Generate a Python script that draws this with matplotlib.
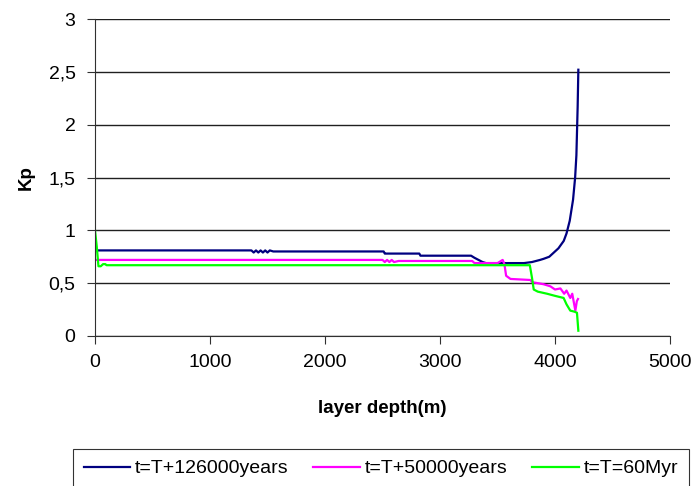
import matplotlib.pyplot as plt
from matplotlib.ticker import FuncFormatter

# series
depth_126k = [0, 20, 1360, 1380, 1400, 1420, 1440, 1460, 1480, 1500, 1520, 1550,
              2510, 2520, 2530, 2820, 2830, 3270, 3300, 3370, 3400, 3730, 3800,
              3870, 3900, 3950, 3990, 4030, 4076, 4100, 4128, 4157, 4175, 4186,
              4197, 4203]
kp_126k = [0.81, 0.81, 0.81, 0.79, 0.81, 0.79, 0.81, 0.79, 0.81, 0.79, 0.81, 0.80,
           0.80, 0.78, 0.78, 0.78, 0.76, 0.76, 0.74, 0.70, 0.69, 0.69, 0.70,
           0.72, 0.73, 0.75, 0.79, 0.83, 0.90, 0.97, 1.09, 1.29, 1.50, 1.71,
           2.17, 2.52]

depth_50k = [0, 2500, 2520, 2540, 2560, 2580, 2600, 2640, 3280, 3300, 3500, 3530,
             3545, 3560, 3575, 3613, 3787, 3800, 3850, 3900, 3931, 3960, 4000,
             4047, 4080, 4100, 4133, 4150, 4177, 4190, 4200]
kp_50k = [0.72, 0.72, 0.70, 0.72, 0.70, 0.72, 0.70, 0.71, 0.71, 0.69, 0.69, 0.71,
          0.72, 0.68, 0.57, 0.54, 0.53, 0.51, 0.50, 0.49, 0.48, 0.47, 0.44,
          0.45, 0.40, 0.43, 0.36, 0.40, 0.24, 0.33, 0.35]

depth_60m = [0, 15, 30, 50, 70, 90, 100, 3781, 3800, 3815, 3850, 3931, 4000,
             4075, 4100, 4133, 4170, 4191, 4203]
kp_60m = [1.0, 0.85, 0.66, 0.66, 0.68, 0.68, 0.67, 0.67, 0.55, 0.44, 0.42, 0.40,
          0.38, 0.36, 0.30, 0.24, 0.23, 0.22, 0.05]

labels = ['t=T+126000years', 't=T+50000years', 't=T=60Myr']
colors = ['#000080', '#FF00FF', '#00FF00']

plt.rcParams['font.family'] = ['Liberation Sans', 'DejaVu Sans']

fig = plt.figure(figsize=(6.96, 4.86), dpi=100)
ax = fig.add_axes([95/696, 1-336/486, (670-95)/696, (336-19)/486])

ax.plot(depth_126k, kp_126k, color=colors[0], lw=1.6, label=labels[0])
ax.plot(depth_50k, kp_50k, color=colors[1], lw=1.6, label=labels[1])
ax.plot(depth_60m, kp_60m, color=colors[2], lw=1.6, label=labels[2])

ax.set_xlim(0, 5000)
ax.set_ylim(0, 3)
ax.set_xticks(range(0, 5001, 1000))
ax.set_yticks([0, 0.5, 1, 1.5, 2, 2.5, 3])
ax.yaxis.set_major_formatter(FuncFormatter(lambda v, p: ('%g' % v).replace('.', ',')))
ax.grid(axis='y', color='#202020', lw=1.0)
ax.set_axisbelow(True)
for s in ['top', 'right']:
    ax.spines[s].set_visible(False)
ax.spines['left'].set_color('#303030')
ax.spines['bottom'].set_color('#303030')
ax.tick_params(labelsize=14, length=6, direction='out', color='#303030')
ax.tick_params(axis='y', pad=8)
ax.tick_params(axis='x', pad=7)

ax.set_xlabel('layer depth(m)', fontsize=13.5, fontweight='bold', labelpad=21)
ax.set_ylabel('Kp', fontsize=13.5, fontweight='bold', labelpad=10)

lh = 40/486
leg = fig.legend(loc='upper left', bbox_to_anchor=(73/696, 1-449/486 - lh, 616/696, lh),
                 mode='expand', ncol=3, fontsize=14, frameon=True, fancybox=False,
                 handlelength=2.4, handletextpad=0.25, borderpad=0.55,
                 borderaxespad=0)
leg.get_frame().set_edgecolor('black')
leg.get_frame().set_linewidth(0.8)

fig.savefig('out.png', dpi=100)
